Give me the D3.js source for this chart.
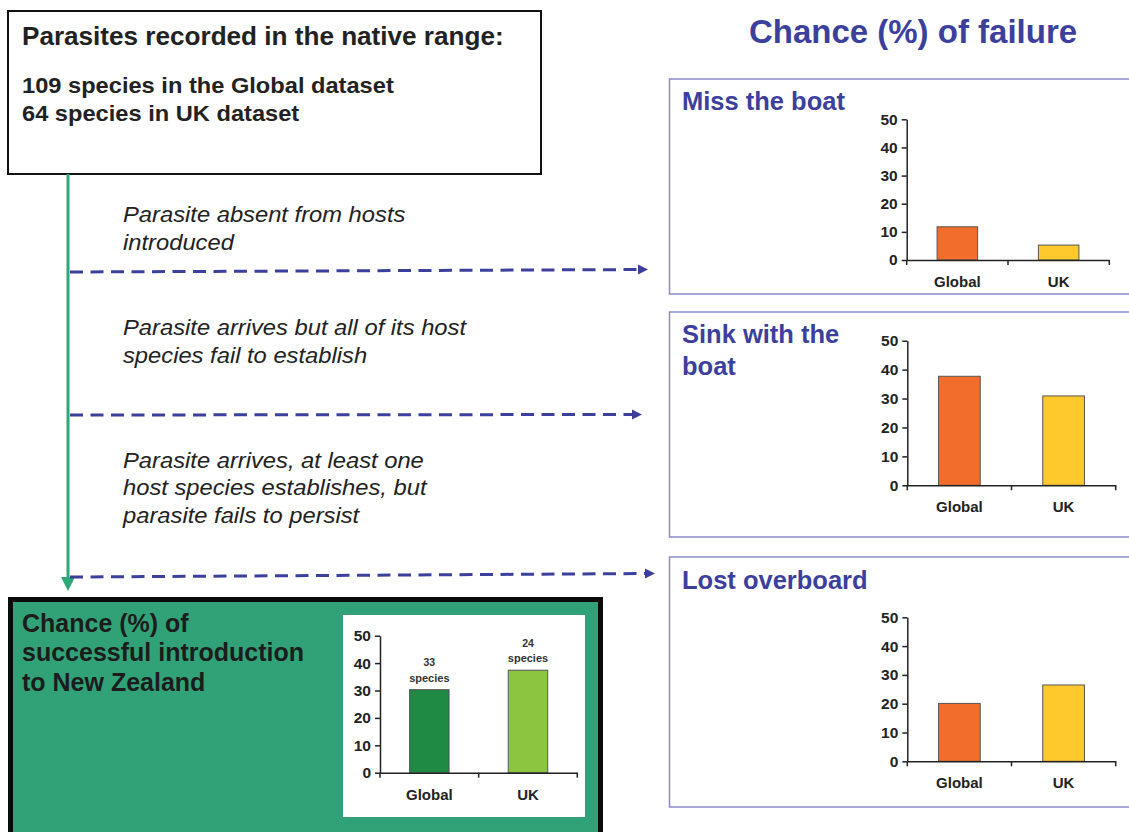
<!DOCTYPE html>
<html><head><meta charset="utf-8">
<script src="https://cdn.jsdelivr.net/npm/d3@7"></script>
<style>
html,body{margin:0;padding:0;background:#fff;}
svg{display:block;font-family:"Liberation Sans",Arial,sans-serif;}
</style></head>
<body>
<svg id="c" width="1129" height="832"></svg>
<script>
// ---------- data ----------
const categories = ["Global", "UK"];
const yTicks = [0, 10, 20, 30, 40, 50];
const missTheBoat = [11.8, 5.3];
const sinkWithTheBoat = [37.7, 30.9];
const lostOverboard = [20.1, 26.5];
const successfulIntro = [30.3, 37.4];
const speciesCounts = ["33", "24"];
const headerLines = ["Parasites recorded in the native range:"];
const datasetLines = ["109 species in the Global dataset", "64 species in UK dataset"];
const stepTexts = [
  ["Parasite absent from hosts", "introduced"],
  ["Parasite arrives but all of its host", "species fail to establish"],
  ["Parasite arrives, at least one", "host species establishes, but", "parasite fails to persist"]
];
const failureTitle = "Chance (%) of failure";
const panelTitles = [["Miss the boat"], ["Sink with the", "boat"], ["Lost overboard"]];
const successTitle = ["Chance (%) of", "successful introduction", "to New Zealand"];

// ---------- styles ----------
const BLUE = "#3c3f9c";
const GREEN_LINE = "#2ea877";
const failColors = ["#f26d2b", "#fec92c"];
const successColors = ["#1e8a44", "#8cc540"];
const FONT = '"Liberation Sans", Arial, sans-serif';

const svg = d3.select("#c");

function label(parent, x, y, str, size, opts = {}) {
  const sx = opts.sx || 1;
  return parent.append("text")
    .attr("transform", `translate(${x},${y}) scale(${sx},1)`)
    .attr("text-anchor", opts.anchor || "start")
    .attr("font-size", size)
    .attr("font-weight", opts.weight || "bold")
    .attr("font-style", opts.style || "normal")
    .attr("fill", opts.fill || "#222")
    .text(str);
}

// ---------- top box ----------
svg.append("rect").attr("x", 8).attr("y", 11).attr("width", 533).attr("height", 163)
  .attr("fill", "#fff").attr("stroke", "#111").attr("stroke-width", 2);
label(svg, 22, 44.5, headerLines[0], 25, {sx: 1.045});
datasetLines.forEach((t, i) => label(svg, 22, 92.5 + i * 28.5, t, 22, {sx: 1.075}));

// ---------- green vertical arrow ----------
svg.append("line").attr("x1", 68).attr("x2", 68).attr("y1", 174).attr("y2", 580)
  .attr("stroke", GREEN_LINE).attr("stroke-width", 3);
svg.append("path").attr("d", "M61,577 L75,577 L68,591 Z").attr("fill", GREEN_LINE);

// ---------- dashed arrows ----------
const dashed = [
  {x1: 70, y1: 272, x2: 648, y2: 269.5},
  {x1: 70, y1: 415, x2: 642, y2: 414.5},
  {x1: 70, y1: 577, x2: 655, y2: 573.5}
];
dashed.forEach(d => {
  const ang = Math.atan2(d.y2 - d.y1, d.x2 - d.x1);
  const L = 10, W = 5;
  const bx = d.x2 - L * Math.cos(ang), by = d.y2 - L * Math.sin(ang);
  svg.append("line").attr("x1", d.x1).attr("y1", d.y1).attr("x2", bx).attr("y2", by)
    .attr("stroke", BLUE).attr("stroke-width", 3).attr("stroke-dasharray", "13,7.5");
  const px = -Math.sin(ang) * W, py = Math.cos(ang) * W;
  svg.append("path").attr("d", `M${d.x2},${d.y2} L${bx + px},${by + py} L${bx - px},${by - py} Z`).attr("fill", BLUE);
});

// ---------- step texts ----------
const stepY = [222, 335, 467.5];
stepTexts.forEach((lines, i) => lines.forEach((t, j) =>
  label(svg, 123, stepY[i] + j * 27.8, t, 22, {sx: 1.08, weight: "normal", style: "italic"})));

// ---------- right title ----------
label(svg, 913, 43, failureTitle, 33, {anchor: "middle", fill: BLUE});

// ---------- bar chart helper ----------
function barChart(g, o) {
  const y = d3.scaleLinear().domain([0, 50]).range([o.y0, o.y50]);
  const x = d3.scaleBand().domain(categories).range([o.xa, o.xb]).padding(0);
  const bw = x.bandwidth() * 0.4;
  g.selectAll(null).data(o.values).join("rect")
    .attr("x", (d, i) => x(categories[i]) + (x.bandwidth() - bw) / 2)
    .attr("y", d => y(d)).attr("width", bw).attr("height", d => y(0) - y(d))
    .attr("fill", (d, i) => o.colors[i]).attr("stroke", "#555").attr("stroke-width", 1);
  const ya = g.append("g").attr("transform", `translate(${o.xa},0)`)
    .call(d3.axisLeft(y).tickValues(yTicks).tickSize(5).tickPadding(4).tickSizeOuter(0));
  ya.select(".domain").attr("stroke", "#222").attr("stroke-width", 1.5);
  ya.selectAll(".tick line").attr("stroke", "#222").attr("stroke-width", 1.5);
  ya.selectAll("text").attr("font-size", 15.5).attr("font-weight", "bold").attr("fill", "#222").attr("font-family", FONT);
  const xa = g.append("g").attr("transform", `translate(0,${o.y0})`)
    .call(d3.axisBottom(x).tickSize(0).tickPadding(o.labelPad).tickSizeOuter(0));
  xa.select(".domain").attr("stroke", "#222").attr("stroke-width", 1.5);
  xa.selectAll("text").attr("font-size", 15).attr("font-weight", "bold").attr("fill", "#222").attr("font-family", FONT);
  // category boundary ticks (Excel style)
  const bounds = [o.xa, ...categories.slice(1).map(c => x(c)), o.xb];
  g.selectAll(null).data(bounds).join("line")
    .attr("x1", d => d).attr("x2", d => d).attr("y1", o.y0).attr("y2", o.y0 + 5)
    .attr("stroke", "#222").attr("stroke-width", 1.5);
  return {x, y, bw};
}

// ---------- failure panels ----------
const panels = [
  {top: 79, bottom: 294, titleY: 110, values: missTheBoat, y0: 260, y50: 119.3, xa: 906.7, xb: 1109.3, labelPad: 16.5},
  {top: 312, bottom: 537, titleY: 343, values: sinkWithTheBoat, y0: 485.3, y50: 340.7, xa: 907.3, xb: 1115.7, labelPad: 16.5},
  {top: 557, bottom: 807, titleY: 589, values: lostOverboard, y0: 761.3, y50: 617.3, xa: 907.3, xb: 1115.7, labelPad: 16.5}
];
panels.forEach((p, i) => {
  const g = svg.append("g");
  g.append("rect").attr("x", 669.5).attr("y", p.top).attr("width", 470).attr("height", p.bottom - p.top)
    .attr("fill", "#fff").attr("stroke", "#8b8bcb").attr("stroke-width", 1.5);
  panelTitles[i].forEach((t, j) => label(g, 682, p.titleY + j * 32, t, 25.5, {fill: BLUE}));
  barChart(g, {...p, colors: failColors});
});

// ---------- success box ----------
svg.append("rect").attr("x", 10.5).attr("y", 599.5).attr("width", 590).attr("height", 240)
  .attr("fill", "#31a277").attr("stroke", "#0a0a0a").attr("stroke-width", 5);
successTitle.forEach((t, j) => label(svg, 22, 631.5 + j * 29.5, t, 25, {fill: "#1c1c1c"}));
svg.append("rect").attr("x", 343).attr("y", 615).attr("width", 242).attr("height", 202).attr("fill", "#fff");
const sg = svg.append("g");
const s = barChart(sg, {values: successfulIntro, colors: successColors, y0: 772.7, y50: 635.7, xa: 380, xb: 577.3, labelPad: 16.5});
successfulIntro.forEach((v, i) => {
  const cx = s.x(categories[i]) + s.x.bandwidth() / 2;
  const ty = s.y(v);
  label(sg, cx, ty - 23.5, speciesCounts[i], 10.5, {anchor: "middle", fill: "#333"});
  label(sg, cx, ty - 8, "species", 10.5, {anchor: "middle", fill: "#333", sx: 1.05});
});
</script>
</body></html>
